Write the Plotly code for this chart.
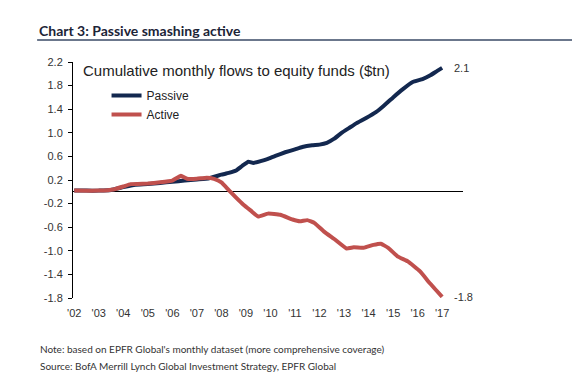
import plotly.graph_objects as go

# ---- data (year fraction, $tn) ----
passive_x = [2002.0, 2002.5, 2003.0, 2003.5, 2004.0, 2004.5, 2005.0, 2005.5, 2006.0, 2006.5,
             2007.0, 2007.5, 2008.0, 2008.3, 2008.6, 2008.85, 2009.1, 2009.3, 2009.6, 2009.9,
             2010.2, 2010.6, 2011.0, 2011.3, 2011.7, 2012.0, 2012.3, 2012.6, 2012.9, 2013.2,
             2013.5, 2013.9, 2014.3, 2014.6, 2015.0, 2015.4, 2015.8, 2016.2, 2016.5, 2016.8,
             2017.0]
passive_y = [0.02, 0.02, 0.02, 0.03, 0.08, 0.12, 0.13, 0.15, 0.17, 0.19,
             0.21, 0.23, 0.29, 0.32, 0.36, 0.44, 0.51, 0.49, 0.52, 0.56,
             0.61, 0.67, 0.72, 0.76, 0.79, 0.80, 0.83, 0.90, 1.00, 1.08,
             1.16, 1.25, 1.35, 1.45, 1.60, 1.74, 1.86, 1.91, 1.97, 2.05,
             2.10]

active_x = [2002.0, 2003.0, 2003.6, 2004.0, 2004.3, 2005.0, 2005.5, 2006.0, 2006.35, 2006.6,
            2007.0, 2007.4, 2007.7, 2008.0, 2008.3, 2008.6, 2008.9, 2009.2, 2009.5, 2009.9,
            2010.4, 2010.9, 2011.2, 2011.5, 2011.8, 2012.2, 2012.6, 2013.1, 2013.4, 2013.8,
            2014.2, 2014.5, 2014.8, 2015.2, 2015.6, 2016.1, 2016.5, 2017.0]
active_y = [0.02, 0.02, 0.04, 0.09, 0.13, 0.14, 0.16, 0.19, 0.27, 0.22,
            0.22, 0.24, 0.22, 0.16, 0.03, -0.10, -0.22, -0.32, -0.42, -0.37,
            -0.39, -0.47, -0.50, -0.48, -0.53, -0.68, -0.80, -0.96, -0.94, -0.95,
            -0.90, -0.88, -0.95, -1.10, -1.18, -1.35, -1.55, -1.78]

year_ticks = list(range(2002, 2018))
year_labels = ["'" + str(y)[2:] for y in year_ticks]
y_ticks = [2.2, 1.8, 1.4, 1.0, 0.6, 0.2, -0.2, -0.6, -1.0, -1.4, -1.8]

NAVY = "#13284f"
RED = "#c0504d"

fig = go.Figure()
fig.add_trace(go.Scatter(x=passive_x, y=passive_y, mode="lines", name="Passive",
                         line=dict(color=NAVY, width=4, shape="spline", smoothing=0.3)))
fig.add_trace(go.Scatter(x=active_x, y=active_y, mode="lines", name="Active",
                         line=dict(color=RED, width=4, shape="spline", smoothing=0.3)))

# page body has an 8px default margin, so the figure is sized/offset to compensate
fig.update_layout(
    width=572, height=384,
    margin=dict(l=65, r=117, t=54, b=94),
    paper_bgcolor="white", plot_bgcolor="white",
    font=dict(family="Liberation Sans, Arial, sans-serif", size=11, color="#222"),
    showlegend=True,
    legend=dict(x=0.086, y=0.92, xanchor="left", yanchor="top",
                bgcolor="rgba(0,0,0,0)", font=dict(size=12, color="#222"),
                itemwidth=30, tracegroupgap=0),
)
fig.update_xaxes(range=[2001.95, 2017.85], tickmode="array", tickvals=year_ticks,
                 ticktext=year_labels, showgrid=False, zeroline=False, showline=False,
                 ticks="", ticklabelstandoff=7, tickfont=dict(size=11, color="#333"))
fig.update_yaxes(range=[-1.8, 2.2], tickmode="array", tickvals=y_ticks,
                 ticktext=[f"{v:.1f}" for v in y_ticks], showgrid=False,
                 zeroline=True, zerolinecolor="black", zerolinewidth=1,
                 showline=True, linecolor="black", linewidth=1,
                 ticks="outside", ticklen=4, tickcolor="black", ticklabelstandoff=3,
                 tickfont=dict(size=11, color="#333"))

# end labels
fig.add_annotation(x=passive_x[-1], y=passive_y[-1], text="2.1", showarrow=False,
                   xanchor="left", xshift=10, font=dict(size=11, color="#333"))
fig.add_annotation(x=active_x[-1], y=active_y[-1], text="-1.8", showarrow=False,
                   xanchor="left", xshift=10, font=dict(size=11, color="#333"))

# inner chart title
fig.add_annotation(xref="paper", yref="paper", x=0.02, y=1.0, yanchor="middle",
                   xanchor="left", yshift=-8, showarrow=False,
                   text="Cumulative monthly flows to equity funds ($tn)",
                   font=dict(size=15, color="#222"))

# header title with rule
fig.add_annotation(xref="paper", yref="paper", x=-0.092, y=1.0, yshift=32,
                   xanchor="left", yanchor="middle", showarrow=False,
                   text="<b>Chart 3: Passive smashing active</b>",
                   font=dict(family="Lato, sans-serif", size=14, color="#1c2437"))
rule_y = 1.0 + 22 / 236
fig.add_shape(type="line", xref="paper", yref="paper", x0=-0.092, x1=1.28,
              y0=rule_y, y1=rule_y, line=dict(color="#3a4a66", width=1.5))

# footnotes
fig.add_annotation(xref="paper", yref="paper", x=-0.09, y=0, yshift=-51,
                   xanchor="left", yanchor="middle", showarrow=False,
                   text="Note: based on EPFR Global's monthly dataset (more comprehensive coverage)",
                   font=dict(family="Lato, sans-serif", size=10, color="#333"))
fig.add_annotation(xref="paper", yref="paper", x=-0.09, y=0, yshift=-68,
                   xanchor="left", yanchor="middle", showarrow=False,
                   text="Source: BofA Merrill Lynch Global Investment Strategy, EPFR Global",
                   font=dict(family="Lato, sans-serif", size=10, color="#333"))

fig.write_html("out.html")
